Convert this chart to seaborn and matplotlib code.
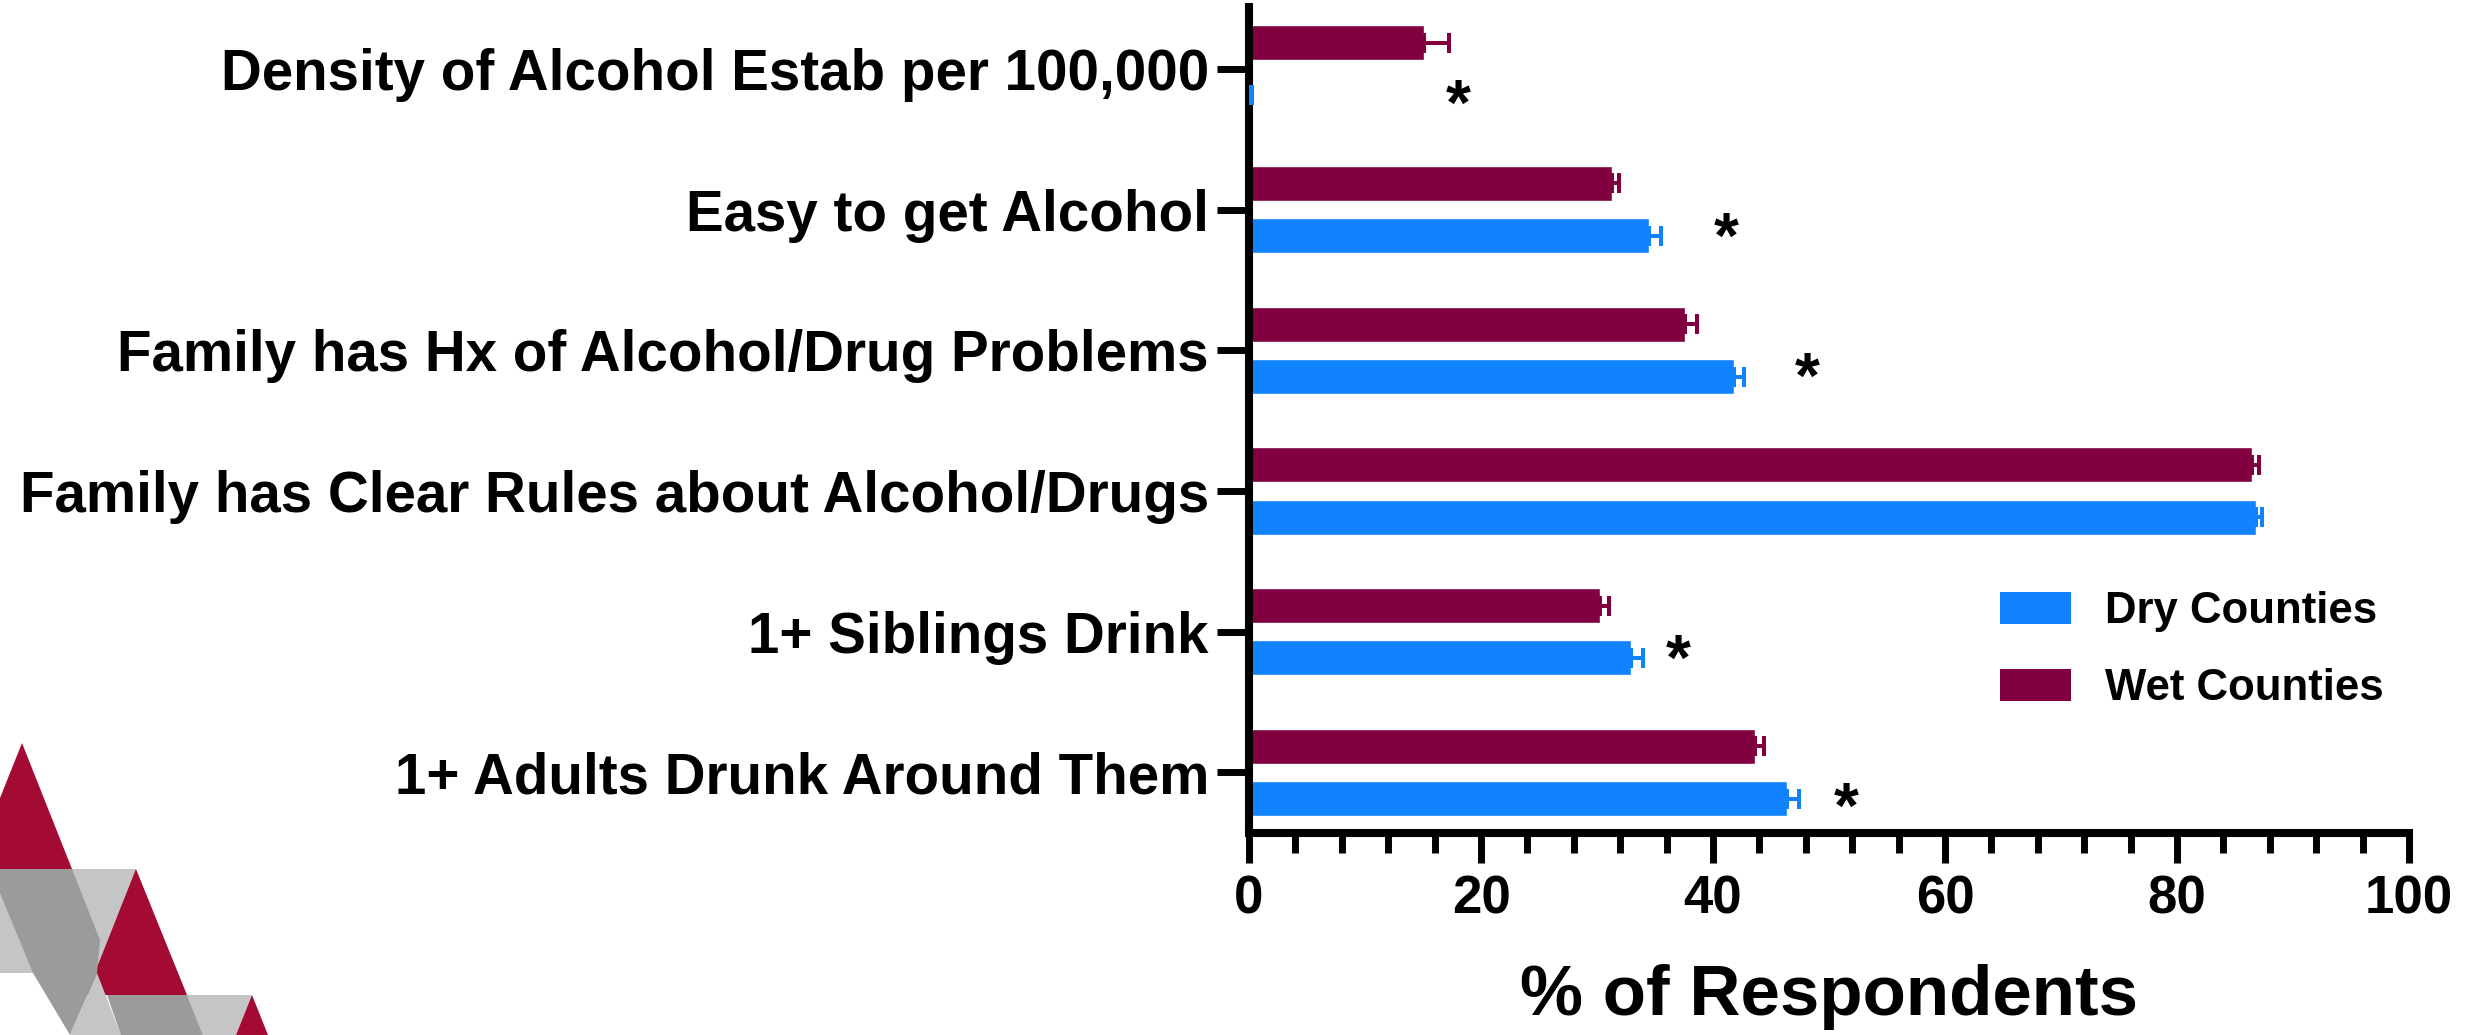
import matplotlib
matplotlib.use("Agg")
import matplotlib.pyplot as plt
from matplotlib.patches import Polygon, Patch
from matplotlib.container import BarContainer
from matplotlib.ticker import FixedLocator, MultipleLocator
import seaborn as sns
import pandas as pd

# ---- data -------------------------------------------------------------
categories = [
    "Density of Alcohol Estab per 100,000",
    "Easy to get Alcohol",
    "Family has Hx of Alcohol/Drug Problems",
    "Family has Clear Rules about Alcohol/Drugs",
    "1+ Siblings Drink",
    "1+ Adults Drunk Around Them",
]
groups = ["Dry Counties", "Wet Counties"]
dry_pct = [0.1, 34.5, 41.8, 86.8, 32.9, 46.4]
dry_sem = [0.2, 1.0, 0.9, 0.5, 1.1, 1.0]
wet_pct = [15.1, 31.3, 37.6, 86.5, 30.3, 43.6]
wet_sem = [2.1, 0.6, 1.0, 0.6, 0.7, 0.8]

# significance markers: row, x position (%) and offset below the row centre
star_rows = [
    "Density of Alcohol Estab per 100,000",
    "Easy to get Alcohol",
    "Family has Hx of Alcohol/Drug Problems",
    "1+ Siblings Drink",
    "1+ Adults Drunk Around Them",
]
star_x = [18.0, 41.1, 48.1, 37.0, 51.5]
star_dy = [0.15, 0.09, 0.09, 0.09, 0.14]

x_ticks = [0, 20, 40, 60, 80, 100]

palette = {"Dry Counties": "#1283FF", "Wet Counties": "#800040"}

# ---- style ------------------------------------------------------------
sns.set_style("ticks")
plt.rcParams["font.family"] = ["Liberation Sans", "DejaVu Sans"]
plt.rcParams["font.weight"] = "bold"
plt.rcParams["axes.labelweight"] = "bold"
for key in ("text.color", "axes.labelcolor", "xtick.color", "ytick.color",
            "xtick.labelcolor", "ytick.labelcolor", "axes.edgecolor"):
    plt.rcParams[key] = "black"

df = pd.DataFrame({
    "measure": categories * 2,
    "county": [groups[0]] * len(categories) + [groups[1]] * len(categories),
    "pct": dry_pct + wet_pct,
})
sem = {"Dry Counties": dry_sem, "Wet Counties": wet_sem}

W, H = 2475, 1035
fig = plt.figure(figsize=(W / 100, H / 100), dpi=100)
ax = fig.add_axes([1249 / W, 1 - 833 / H, (2409 - 1249) / W, (833 - 7) / H])

sns.barplot(
    data=df, y="measure", x="pct", hue="county",
    order=categories, hue_order=["Wet Counties", "Dry Counties"],
    palette=palette, saturation=1, orient="h",
    width=0.744, gap=0.33, errorbar=None, legend=False, ax=ax,
)

# one-sided error bars (upper SEM) on every bar
bar_groups = [c for c in ax.containers if isinstance(c, BarContainer)]
for cont in bar_groups:
    for bar in cont.patches:
        yc = bar.get_y() + bar.get_height() / 2
        idx = int(round(yc))
        level = "Wet Counties" if yc < idx else "Dry Counties"
        ax.errorbar(
            bar.get_width(), yc, xerr=[[0], [sem[level][idx]]], fmt="none",
            ecolor=palette[level], elinewidth=2.9, capsize=7.5, capthick=2.9,
            zorder=3,
        )

# significance asterisks (glyph centre sits ~0.25 rows above its baseline)
for name, xv, dy in zip(star_rows, star_x, star_dy):
    i = categories.index(name)
    ax.text(xv, i + dy + 0.25, "*", ha="center", va="baseline",
            fontsize=46, fontweight="bold", color="black")

# ---- axes -------------------------------------------------------------
ax.set_xlim(0, 100)
ax.set_ylim(5.43, -0.44)
ax.xaxis.set_major_locator(FixedLocator(x_ticks))
ax.xaxis.set_minor_locator(MultipleLocator(4))
ax.set_xticklabels([str(t) for t in x_ticks])

sns.despine(ax=ax)
for side in ("left", "bottom"):
    ax.spines[side].set_linewidth(5.8)
    ax.spines[side].set_color("black")

ax.tick_params(axis="x", which="major", length=21.6, width=5, pad=8.6,
               labelsize=38, direction="out", color="black", labelcolor="black")
ax.tick_params(axis="x", which="minor", length=14.4, width=5,
               direction="out", color="black")
ax.tick_params(axis="y", which="major", length=23, width=5, pad=5.8,
               labelsize=40.7, direction="out", color="black", labelcolor="black")

ax.set_ylabel("")
ax.set_xlabel("% of Respondents", fontsize=51, labelpad=28, color="black")

handles = [Patch(facecolor=palette[g], edgecolor="none", label=g) for g in groups]
leg = fig.legend(handles=handles, loc="upper left",
                 bbox_to_anchor=(2000 / W, 1 - 591 / H),
                 frameon=False, fontsize=31.5, handlelength=1.62, handleheight=0.76,
                 handletextpad=0.78, labelspacing=0.83, borderpad=0, borderaxespad=0)
for t in leg.get_texts():
    t.set_color("black")

# ---- corner emblem ------------------------------------------------------
RED, LIGHT, DARK = "#A30B35", "#C5C5C5", "#9B9B9B"
emblem = [
    (LIGHT, [(0, 869), (136, 869), (136, 973), (0, 973)]),
    (RED, [(136, 869), (187, 995), (86, 995)]),
    (DARK, [(0, 869), (72, 869), (100, 940), (97, 973), (70, 1035), (33, 973), (0, 893)]),
    (LIGHT, [(97, 973), (121, 1035), (70, 1035)]),
    (LIGHT, [(187, 995), (252, 995), (236, 1035), (203, 1035)]),
    (DARK, [(107, 995), (187, 995), (203, 1035), (121, 1035)]),
    (RED, [(252, 995), (268, 1035), (236, 1035)]),
    (RED, [(0, 798), (22, 743), (72, 869), (0, 869)]),
]
for color, pts in emblem:
    fig.add_artist(Polygon([(x / W, 1 - y / H) for x, y in pts], closed=True,
                           facecolor=color, edgecolor="none",
                           transform=fig.transFigure))

fig.savefig("out.png", dpi=100, facecolor="white")
